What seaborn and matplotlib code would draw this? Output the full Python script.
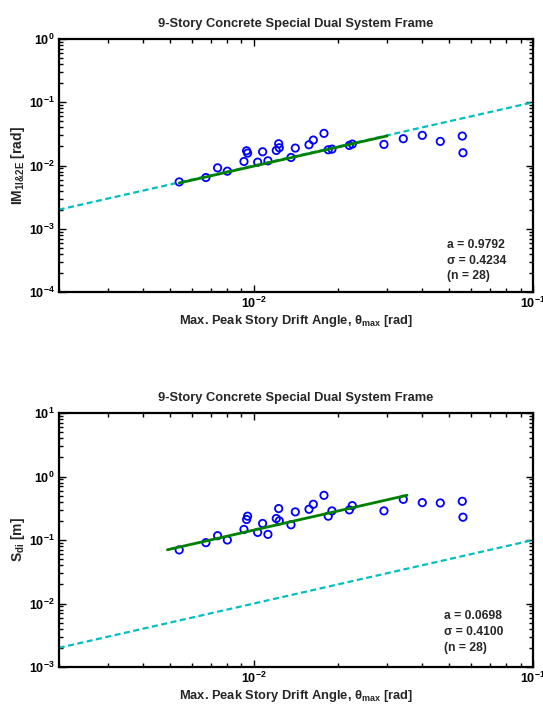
import numpy as np
import pandas as pd
import matplotlib
matplotlib.use("Agg")
import matplotlib.pyplot as plt
import seaborn as sns
from matplotlib.ticker import FuncFormatter, NullFormatter, LogLocator

# Maximum peak story drift angle for each ground motion [rad]
drift = [0.00540, 0.00673, 0.00741, 0.00803, 0.00921, 0.00941, 0.00949,
         0.01031, 0.01074, 0.01122, 0.01202, 0.01226, 0.01232, 0.01357,
         0.01406, 0.01574, 0.01631, 0.01781, 0.01845, 0.01902, 0.02195,
         0.02249, 0.02920, 0.03424, 0.04005, 0.04646, 0.05569, 0.05600]

# Intensity measure IM_1I&2E [rad]
im_1i2e = [0.00550, 0.00645, 0.00918, 0.00813, 0.01157, 0.01709, 0.01570,
           0.01129, 0.01648, 0.01186, 0.01730, 0.02208, 0.01907, 0.01339,
           0.01884, 0.02128, 0.02524, 0.03220, 0.01773, 0.01816, 0.02077,
           0.02182, 0.02155, 0.02651, 0.02995, 0.02404, 0.02921, 0.01589]

# Inelastic spectral displacement S_di [m]
sdi = [0.0698, 0.0908, 0.1169, 0.1000, 0.1468, 0.2103, 0.2371,
       0.1318, 0.1822, 0.1226, 0.2180, 0.3126, 0.2004, 0.1736,
       0.2772, 0.3051, 0.3652, 0.5048, 0.2371, 0.2873, 0.2978,
       0.3480, 0.2873, 0.4371, 0.3878, 0.3831, 0.4069, 0.2287]

# Fit statistics
a_im, sigma_im, n_im = 0.9792, 0.4234, 28
a_sd, sigma_sd, n_sd = 0.0698, 0.4100, 28

# Drift ranges covered by the fitted lines and the 1:1 reference line
im_fit_range = [0.0054, 0.0300]
sd_fit_range = [0.0049, 0.0353]
ref_range = [0.002, 0.1]

title = "9-Story Concrete Special Dual System Frame"

sns.set_style("ticks")
plt.rcParams["font.family"] = ["Liberation Sans", "DejaVu Sans"]
plt.rcParams["font.weight"] = "bold"
plt.rcParams["font.size"] = 10
plt.rcParams["mathtext.fontset"] = "custom"
for key in ("rm", "bf", "it", "sf"):
    plt.rcParams["mathtext." + key] = "Liberation Sans:bold"
plt.rcParams["mathtext.default"] = "regular"

fig = plt.figure(figsize=(5.43, 7.04), dpi=100)
W, H = 543.0, 704.0
ax_left, ax_right = 58.7, 533.3
ax_top = fig.add_axes([ax_left / W, 1 - 292 / H, (ax_right - ax_left) / W, 253 / H])
ax_bot = fig.add_axes([ax_left / W, 1 - 667 / H, (ax_right - ax_left) / W, 254 / H])

df_im = pd.DataFrame({"drift": drift, "value": im_1i2e})
df_sd = pd.DataFrame({"drift": drift, "value": sdi})

ref_df = pd.DataFrame({"x": ref_range, "y": ref_range})
im_fit = pd.DataFrame({"x": im_fit_range, "y": [a_im * v for v in im_fit_range]})
sd_fit = pd.DataFrame({"x": sd_fit_range, "y": [v / a_sd for v in sd_fit_range]})

cyan = (0.0, 0.75, 0.75)
green = (0.0, 0.5, 0.0)

panels = [
    (ax_top, df_im, im_fit, (1e-4, 1e0), r"$\mathregular{IM_{1I&2E}}$ [rad]",
     a_im, sigma_im, n_im, 0.818, 0.123),
    (ax_bot, df_sd, sd_fit, (1e-3, 1e1), r"$\mathregular{S_{di}}$ [m]",
     a_sd, sigma_sd, n_sd, 0.812, 0.138),
]

for ax, df, fit, ylim, ylab, a, sig, n, tx, ty in panels:
    ax.set_xscale("log")
    ax.set_yscale("log")
    sns.lineplot(data=ref_df, x="x", y="y", ax=ax, color=cyan, lw=1.6,
                 linestyle=(0, (2.7, 1.6)), zorder=2)
    sns.scatterplot(data=df, x="drift", y="value", ax=ax, marker="o", s=28,
                    facecolor="none", edgecolor="blue", linewidth=1.3, zorder=3)
    sns.lineplot(data=fit, x="x", y="y", ax=ax, color=green, lw=2.0, zorder=4)

    ax.set_xlim(ref_range)
    ax.set_ylim(ylim)
    ax.set_title(title, fontsize=9.3, fontweight="bold", pad=9)
    ax.set_xlabel(r"Max. Peak Story Drift Angle, $\theta_{max}$ [rad]",
                  fontsize=9.3, fontweight="bold", labelpad=1)
    ax.set_ylabel(ylab, fontsize=10, fontweight="bold", labelpad=1)

    fmt = FuncFormatter(lambda v, p: r"$\mathregular{10^{%d}}$" % round(np.log10(v)))
    for axis in (ax.xaxis, ax.yaxis):
        axis.set_major_locator(LogLocator(base=10, numticks=20))
        axis.set_minor_locator(LogLocator(base=10, subs=np.arange(2, 10), numticks=20))
        axis.set_major_formatter(fmt)
        axis.set_minor_formatter(NullFormatter())

    ax.tick_params(which="both", direction="in", top=True, right=True,
                   labelsize=9, width=1.0, colors="black")
    ax.tick_params(which="major", length=5, pad=3)
    ax.tick_params(which="minor", length=3)
    for sp in ax.spines.values():
        sp.set_linewidth(1.6)
        sp.set_color("black")
        sp.set_visible(True)

    ax.text(tx, ty, f"a = {a:.4f}\n\u03c3 = {sig:.4f}\n(n = {n})",
            transform=ax.transAxes, ha="left", va="center",
            fontsize=8.7, fontweight="bold", linespacing=1.4)

fig.savefig("out.png", dpi=100)
